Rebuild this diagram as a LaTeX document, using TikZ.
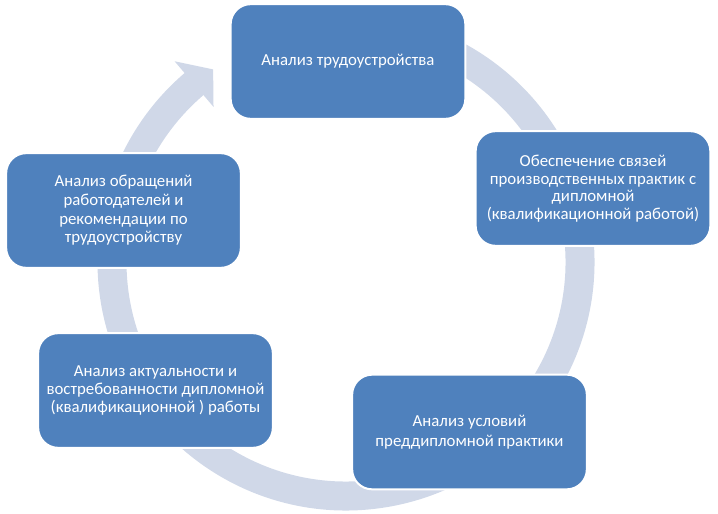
\documentclass[tikz,border=0pt]{standalone}
\usepackage{fontspec}
\setmainfont{Carlito}
\usepackage{tikz}
\usepackage{xcolor}

\definecolor{boxblue}{HTML}{4F81BD}
\definecolor{ringcol}{HTML}{D0D8E8}

\begin{document}
\begin{tikzpicture}[x=0.75pt,y=0.75pt,
        stagebox/.style={rectangle,rounded corners=15pt,fill=boxblue,draw=white,line width=1.5pt,
            minimum width=176pt,minimum height=86pt,align=center,text=white,
            font=\fontsize{12.6}{13.2}\selectfont}]
        \useasboundingbox (0,0) rectangle (718,514);
        \coordinate (ring) at (346,252);
        % ring with the arrow head at the upper left
        \draw[ringcol,line width=21.75pt] (ring) ++(100:234) arc[start angle=100,end angle=-230,radius=234];
        \fill[ringcol,shift={(ring)}] (130.5:204) -- (130.5:264) -- (124.6:234) -- cycle;
        % stages
        \node[stagebox] (trud) at (348,452.5) {Анализ трудоустройства};
        \node[stagebox] (svyaz) at (593,325.5) {Обеспечение связей\\производственных практик с\\дипломной\\(квалификационной работой)};
        \node[stagebox,font=\fontsize{12.6}{15}\selectfont] (uslov) at (469.5,82) {Анализ условий\\преддипломной практики};
        \node[stagebox] (aktual) at (155.5,123.5) {Анализ актуальности и\\востребованности дипломной\\(квалификационной ) работы};
        \node[stagebox,font=\fontsize{12.6}{14}\selectfont] (obrash) at (123.5,303.5) {Анализ обращений\\работодателей и\\рекомендации по\\трудоустройству};
    \end{tikzpicture}
\end{document}
